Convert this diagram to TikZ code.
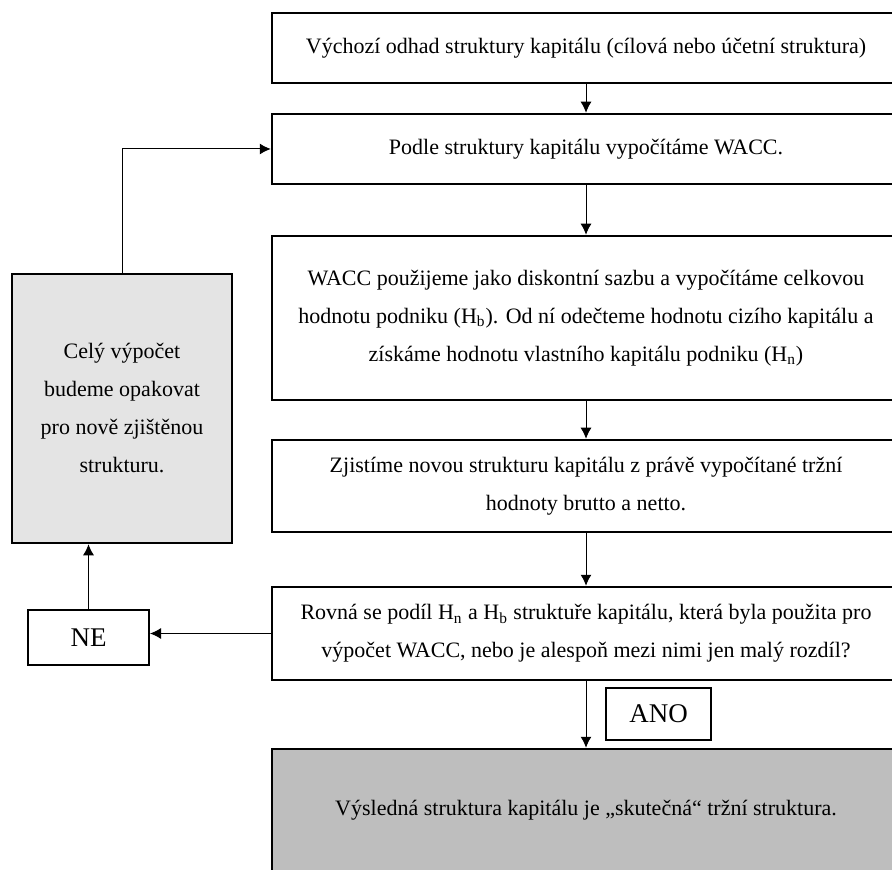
\documentclass[tikz,border=0pt]{standalone}
\usepackage{fontspec}
\setmainfont{Liberation Serif}
\usepackage{xcolor}
\usetikzlibrary{arrows.meta, positioning}

\definecolor{sedaSvetla}{HTML}{E4E4E4}
\definecolor{sedaTmava}{HTML}{BEBEBE}

\tikzset{
    krok/.style={draw, line width=1.25pt, minimum width=314pt, inner sep=0pt,
        align=center, font=\fontsize{11}{19}\selectfont},
    volba/.style={draw, line width=1pt, inner sep=0pt, font=\fontsize{13.5}{16}\selectfont},
    sipka/.style={->, line width=0.5pt}
}

\begin{document}
\begin{tikzpicture}[>={Latex[length=5.5pt, width=5.5pt]}, x=0.5pt, y=-0.5pt]
    \useasboundingbox (0,0) rectangle (892,870);
    \clip (0,0) rectangle (892,870);

    % Kroky výpočtu
    \node[krok, minimum height=35pt] (vychozi) at (586,48)
        {Výchozí odhad struktury kapitálu (cílová nebo účetní struktura)};
    \node[krok, minimum height=35pt] (wacc) at (586,149)
        {Podle struktury kapitálu vypočítáme WACC.};
    \node[krok, minimum height=82pt] (hodnota) at (586,318)
        {WACC použijeme jako diskontní sazbu a vypočítáme celkovou\\
         hodnotu podniku (H\textsubscript{b}). Od ní odečteme hodnotu cizího kapitálu a\\
         získáme hodnotu vlastního kapitálu podniku (H\textsubscript{n})};
    \node[krok, minimum height=46pt] (struktura) at (586,486)
        {Zjistíme novou strukturu kapitálu z právě vypočítané tržní\\
         hodnoty brutto a netto.};
    \node[krok, minimum height=46.5pt] (test) at (586,633.5)
        {Rovná se podíl H\textsubscript{n} a H\textsubscript{b} struktuře kapitálu, která byla použita pro\\
         výpočet WACC, nebo je alespoň mezi nimi jen malý rozdíl?};
    \node[krok, fill=sedaTmava, minimum height=61.5pt] (vysledek) at (586,810.5)
        {Výsledná struktura kapitálu je „skutečná“ tržní struktura.};

    % Smyčka vlevo
    \node[krok, fill=sedaSvetla, minimum width=110pt, minimum height=134.5pt] (opak) at (122,408.5)
        {Celý výpočet\\budeme opakovat\\pro nově zjištěnou\\strukturu.};
    \node[volba, minimum width=60.5pt, minimum height=27.5pt] (ne) at (88.5,637.5) {NE};
    \node[volba, minimum width=52.5pt, minimum height=26pt] (ano) at (658.5,714) {ANO};

    % Šipky
    \draw[sipka] (vychozi) -- (wacc);
    \draw[sipka] (wacc) -- (hodnota);
    \draw[sipka] (hodnota) -- (struktura);
    \draw[sipka] (struktura) -- (test);
    \draw[sipka] (test) -- (vysledek);
    \draw[sipka] (test.west) -- (test.west -| ne.east);
    \draw[sipka] (ne.north) -- (ne.north |- opak.south);
    \draw[sipka] (opak.north) |- (wacc.west);

\end{tikzpicture}
\end{document}
